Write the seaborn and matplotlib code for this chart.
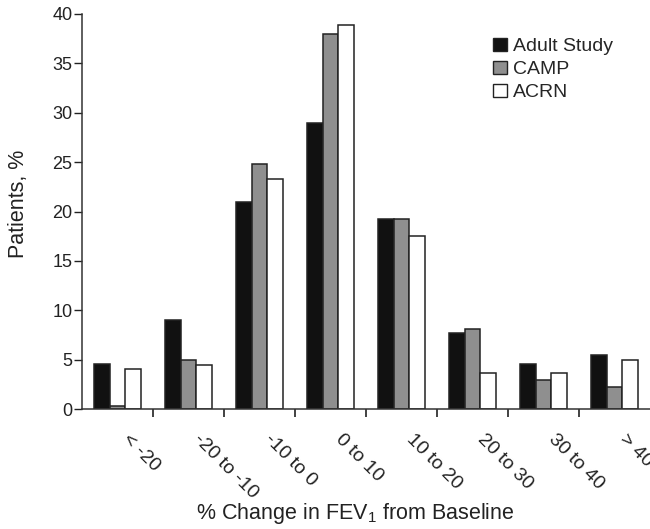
import matplotlib
matplotlib.use("Agg")
import matplotlib.pyplot as plt
import matplotlib.transforms as mtransforms
import seaborn as sns
import pandas as pd
import numpy as np
from matplotlib.patches import Patch

categories = ["< -20", "-20 to -10", "-10 to 0", "0 to 10", "10 to 20", "20 to 30", "30 to 40", "> 40"]
series_names = ["Adult Study", "CAMP", "ACRN"]
adult = [4.6, 9.0, 21.0, 29.0, 19.2, 7.7, 4.6, 5.5]
camp = [0.3, 5.0, 24.8, 38.0, 19.2, 8.1, 2.9, 2.2]
acrn = [4.1, 4.5, 23.3, 38.9, 17.5, 3.6, 3.6, 5.0]
colors = ["#111111", "#8f8f8f", "#ffffff"]

sns.set_style("ticks")
plt.rcParams["font.family"] = ["Liberation Sans", "DejaVu Sans"]
plt.rcParams["mathtext.fontset"] = "custom"
plt.rcParams["mathtext.rm"] = "Liberation Sans"
plt.rcParams["mathtext.it"] = "Liberation Sans:italic"

df = pd.DataFrame({
    "category": categories * 3,
    "value": adult + camp + acrn,
    "study": [series_names[0]] * 8 + [series_names[1]] * 8 + [series_names[2]] * 8,
})

fig = plt.figure(figsize=(6.5, 5.29), dpi=100)
ax = fig.add_axes([82 / 650, 1 - 409 / 529, 1 - 82 / 650, (409 - 14) / 529])

sns.barplot(data=df, x="category", y="value", hue="study", order=categories,
            hue_order=series_names, palette=colors, edgecolor="#222222",
            linewidth=1.1, width=0.67, gap=0, ax=ax, legend=False)

ax.set_xlim(-0.5, 7.5)
ax.set_ylim(0, 40)
ax.set_yticks(np.arange(0, 41, 5))
ax.tick_params(axis="y", direction="out", length=6, width=1, labelsize=13,
               colors="#222222", pad=1)
ax.set_xticks(range(len(categories)))
ax.set_xticklabels(categories)
ax.tick_params(axis="x", which="major", length=0, pad=20, labelsize=14,
               colors="#222222")
ax.set_xticks(np.arange(0.5, 7.0, 1.0), minor=True)
ax.tick_params(axis="x", which="minor", direction="out", length=6, width=1.2,
               color="#222222")
offset = mtransforms.ScaledTranslation(8 / 100, 0, fig.dpi_scale_trans)
for lbl in ax.get_xticklabels():
    lbl.set_rotation(-45)
    lbl.set_ha("left")
    lbl.set_va("center")
    lbl.set_rotation_mode("anchor")
    lbl.set_transform(lbl.get_transform() + offset)

for s in ["top", "right"]:
    ax.spines[s].set_visible(False)
for s in ["left", "bottom"]:
    ax.spines[s].set_color("#333333")
    ax.spines[s].set_linewidth(1.1)

ax.set_xlabel("")
ax.set_ylabel("")
fig.text(355 / 650, 1 - 513 / 529, "% Change in FEV$_{\\mathregular{1}}$ from Baseline",
         ha="center", va="center", fontsize=15.5, color="#222222")
fig.text(19 / 650, 1 - 204 / 529, "Patients, %", rotation=90,
         ha="center", va="center", fontsize=15.5, color="#222222")

handles = [Patch(facecolor=c, edgecolor="#222222", linewidth=1.0) for c in colors]
ax.legend(handles, series_names, loc="upper left", bbox_to_anchor=(0.71, 0.96),
          frameon=False, fontsize=14, handlelength=0.7, handleheight=0.7,
          handletextpad=0.3, labelspacing=0.28, borderaxespad=0)

fig.savefig("out.png", dpi=100)
